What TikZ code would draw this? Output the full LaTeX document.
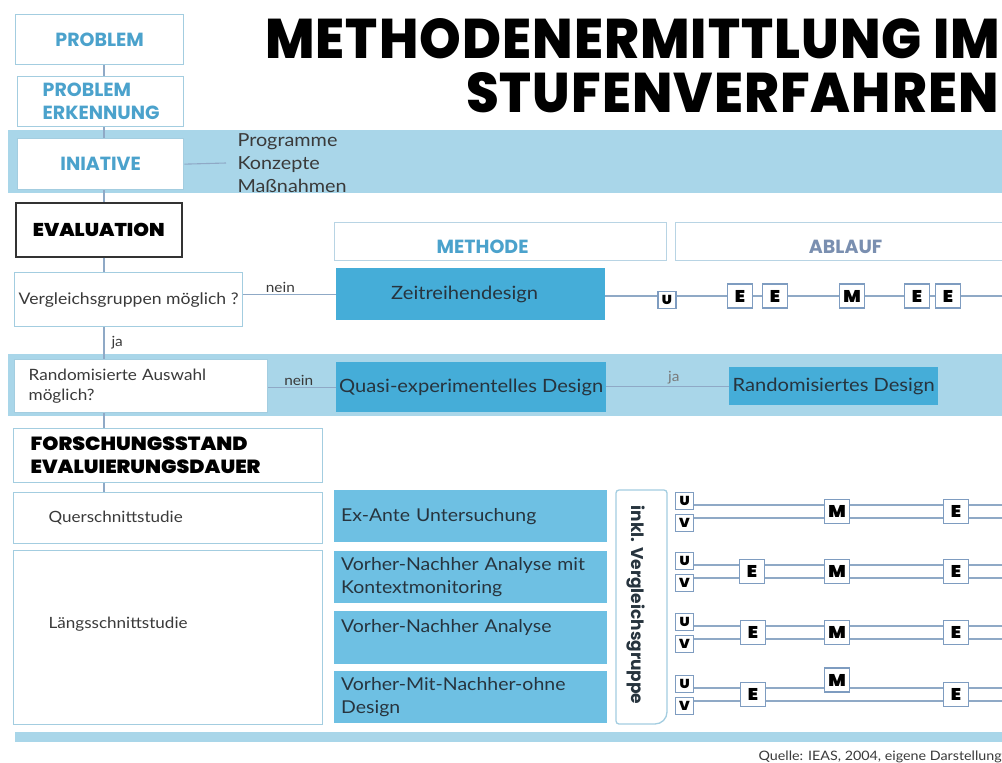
\documentclass[tikz,border=0pt]{standalone}
\usepackage{fontspec}
\usepackage{graphicx}
\setmainfont{Lato}[FakeStretch=1.1]
\newfontfamily\headfont{Poppins}
\IfFontExistsTF{Poppins Black}
  {\newfontfamily\heavyfont{Poppins Black}[FakeStretch=1.08]}
  {\newfontfamily\heavyfont{Poppins}[FakeBold=2]}
\IfFontExistsTF{Poppins ExtraBold}
  {\newfontfamily\titlefont{Poppins ExtraBold}[LetterSpace=2]}
  {\newfontfamily\titlefont{Poppins}[LetterSpace=2]}
\usetikzlibrary{backgrounds}
\definecolor{band}{HTML}{A9D6E9}
\definecolor{midblue}{HTML}{45ADD8}
\definecolor{lightmeth}{HTML}{6EC0E3}
\definecolor{frameblue}{HTML}{A3CDE0}
\definecolor{hdrframe}{HTML}{B8D4E4}
\definecolor{headblue}{HTML}{4BA2CC}
\definecolor{ablaufblue}{HTML}{7A8FB0}
\definecolor{lineblue}{HTML}{8FA9C6}
\definecolor{letterframe}{HTML}{7E9CC0}
\definecolor{textdark}{HTML}{3A3A3A}
\definecolor{methtext}{HTML}{27343E}
\definecolor{textgray}{HTML}{7A7A7A}
\definecolor{evalframe}{HTML}{333333}
\begin{document}
\begin{tikzpicture}[x=1pt,y=-1pt,
  frame/.style={draw=frameblue, line width=1.3pt, fill=white, inner sep=0pt, anchor=north west},
  headtxt/.style={font=\headfont\bfseries\fontsize{19}{23}\selectfont, text=headblue},
  heavytxt/.style={font=\heavyfont\fontsize{18.5}{23}\selectfont, text=black},
  bodytxt/.style={font=\fontsize{18}{23}\selectfont, text=textdark},
  method/.style={fill=lightmeth, anchor=north west, inner xsep=7pt, inner ysep=0pt,
    text width=259pt, minimum height=52pt, align=left,
    font=\fontsize{17.7}{23}\selectfont, text=methtext},
  design/.style={fill=midblue, anchor=north west, inner sep=0pt,
    font=\fontsize{18.3}{23}\selectfont, text=methtext},
  conn/.style={draw=lineblue, line width=1.1pt},
  lbl/.style={font=\fontsize{14}{14}\selectfont, text=textgray, inner sep=1.5pt},
  letterbox/.style={draw=letterframe, line width=1.1pt, fill=white, minimum width=25pt,
    minimum height=24pt, inner sep=0pt, font=\heavyfont\fontsize{17}{17}\selectfont},
  uvbox/.style={letterbox, anchor=north west, minimum width=18pt, minimum height=17pt,
    font=\heavyfont\fontsize{13}{13}\selectfont},
]
\useasboundingbox (0,0) rectangle (1002,763);

% title
\node[anchor=north west, inner sep=0pt] (title1) at (265,18)
  {\resizebox{735pt}{40pt}{\titlefont METHODENERMITTLUNG IM}};
\node[anchor=north west, inner sep=0pt] (title2) at (466,72)
  {\resizebox{532pt}{40pt}{\titlefont STUFENVERFAHREN}};

% light bands
\fill[band] (8,130) rectangle (1002,193);
\fill[band] (8,354) rectangle (1002,416);
\fill[band] (15,732) rectangle (1002,742);

% left column
\node[frame, minimum width=168pt, minimum height=50pt, headtxt] (problem) at (15,14) {PROBLEM};
\node[frame, minimum width=166pt, minimum height=50pt, headtxt, inner xsep=25pt, text width=116pt, align=left] (erkennung) at (17,76) {PROBLEM\\ERKENNUNG};
\node[frame, minimum width=166pt, minimum height=51pt, headtxt] (iniative) at (17,138) {INIATIVE};
\node[anchor=west, align=left, bodytxt] (measures) at (234,163) {Programme\\Konzepte\\Maßnahmen};
\node[frame, draw=evalframe, line width=1.6pt, minimum width=166pt, minimum height=54pt, heavytxt] (evaluation) at (15,202) {EVALUATION};
\node[frame, minimum width=228pt, minimum height=54pt, inner xsep=4pt,
  bodytxt, font=\fontsize{16}{20}\selectfont] (vergl) at (14,272) {Vergleichsgruppen möglich ?};
\node[frame, minimum width=253pt, minimum height=53pt, inner xsep=14pt, text width=225pt, align=left,
  bodytxt, font=\fontsize{15.6}{20}\selectfont] (rand) at (14,359) {Randomisierte Auswahl\\möglich?};
\node[frame, minimum width=309pt, minimum height=54pt, inner xsep=17pt, text width=275pt, align=left,
  heavytxt, font=\heavyfont\fontsize{19}{23}\selectfont] (forsch) at (13,428) {FORSCHUNGSSTAND\\EVALUIERUNGSDAUER};
\node[frame, minimum width=309pt, minimum height=51pt, inner xsep=35pt, text width=239pt, align=left,
  bodytxt, font=\fontsize{15.5}{20}\selectfont] (quer) at (13,492) {Querschnittstudie};
\node[frame, minimum width=309pt, minimum height=174pt, inner xsep=35pt, text width=239pt, align=left,
  text depth=30pt, bodytxt, font=\fontsize{15.5}{20}\selectfont] (laengs) at (13,550) {Längsschnittstudie};

% column headers
\node[frame, draw=hdrframe, minimum width=332pt, minimum height=38pt, headtxt, text height=24pt] (methode) at (334,222) {METHODE\hspace*{36pt}};
\node[frame, draw=hdrframe, minimum width=340pt, minimum height=38pt, headtxt, text=ablaufblue, text height=24pt] (ablauf) at (675,222) {ABLAUF};

% designs
\node[design, minimum width=269pt, minimum height=52pt] (zeit) at (336,268) {Zeitreihendesign\hspace*{12pt}};
\node[design, minimum width=270pt, minimum height=50pt] (quasi) at (336,362) {Quasi-experimentelles Design};
\node[design, minimum width=209pt, minimum height=38pt] (randd) at (729,367) {Randomisiertes Design};

% study methods
\node[method] (exante) at (334,490) {Ex-Ante Untersuchung};
\node[method] (kontext) at (334,551) {Vorher-Nachher Analyse mit\\Kontextmonitoring};
\node[method, minimum height=53pt] (vorher) at (334,611) {Vorher-Nachher Analyse\\\phantom{K}};
\node[method] (mitohne) at (334,671) {Vorher-Mit-Nachher-ohne\\Design};

% comparison group bracket
\draw[draw=frameblue, line width=1.3pt] (616,490) [rounded corners=3pt] -- (667,490)
  [rounded corners=12pt] -- (667,724) [rounded corners=3pt] -- (616,724) -- cycle;
\node[rotate=-90, font=\headfont\bfseries\fontsize{17}{17}\selectfont, text=methtext] (inkl) at (636,605) {inkl. Vergleichsgruppe};

% main spine
\coordinate (spine) at (104,0);
\draw[conn] (problem.south -| spine) -- (erkennung.north -| spine);
\draw[conn] (erkennung.south -| spine) -- (iniative.north -| spine);
\draw[conn] (iniative.south -| spine) -- (evaluation.north -| spine);
\draw[conn] (evaluation.south -| spine) -- (vergl.north -| spine);
\draw[conn] (vergl.south -| spine) -- node[lbl, right, inner xsep=7pt, text=textdark] (ja1) {ja} (rand.north -| spine);
\draw[conn] (rand.south -| spine) -- (forsch.north -| spine);
\draw[conn] (forsch.south -| spine) -- (quer.north -| spine);

% branches
\draw[conn] (iniative.east) -- ([xshift=-8pt]measures.west);
\draw[conn] (vergl.east |- zeit.center) -- node[lbl, above, pos=0.4, text=textdark] (nein1) {nein} (zeit.west);
\draw[conn] (rand.east |- quasi.center) -- node[lbl, above, pos=0.45, text=textdark] (nein2) {nein} (quasi.west);
\draw[conn] (quasi.east |- randd.center) -- node[lbl, above, pos=0.55] (ja2) {ja} (randd.west);

% time series sequence
\coordinate (zend) at (1002,296);
\node[uvbox, anchor=center] (zu) at (667,300) {U};
\node[letterbox] (ze1) at (740,296) {E};
\node[letterbox] (ze2) at (775,296) {E};
\node[letterbox] (zm) at (852,296) {M};
\node[letterbox] (ze3) at (917,296) {E};
\node[letterbox] (ze4) at (948,296) {E};
\begin{scope}[on background layer]
  \draw[conn] (zeit.east |- zend) -- (zend);
\end{scope}

% sequences with comparison group
\foreach \r/\T in {1/492,2/552,3/613,4/675} {
  \node[uvbox] (u\r) at (675,\T) {U};
  \node[uvbox] (v\r) at (675,\T+22) {V};
  \coordinate (lu\r) at (1002,\T+13);
  \coordinate (lv\r) at (1002,\T+26);
  \begin{scope}[on background layer]
    \draw[conn] (u\r.east |- lu\r) -- (lu\r);
    \draw[conn] (v\r.east |- lv\r) -- (lv\r);
  \end{scope}
}
\node[letterbox] (m1) at (837,511.5) {M};
\node[letterbox] (e1b) at (956,511.5) {E};
\node[letterbox] (e2a) at (752,571.5) {E};
\node[letterbox] (m2) at (837,571.5) {M};
\node[letterbox] (e2b) at (956,571.5) {E};
\node[letterbox] (e3a) at (753,632.5) {E};
\node[letterbox] (m3) at (837,632.5) {M};
\node[letterbox] (e3b) at (956,632.5) {E};
\node[letterbox] (e4a) at (753,694.5) {E};
\node[letterbox] (m4) at (837,680) {M};
\node[letterbox] (e4b) at (956,694.5) {E};

% source
\node[anchor=base east, inner sep=0pt, font=\fontsize{13}{13}\selectfont, text=textdark] (src) at (1002,760) {Quelle: IEAS, 2004, eigene Darstellung};
\end{tikzpicture}
\end{document}
